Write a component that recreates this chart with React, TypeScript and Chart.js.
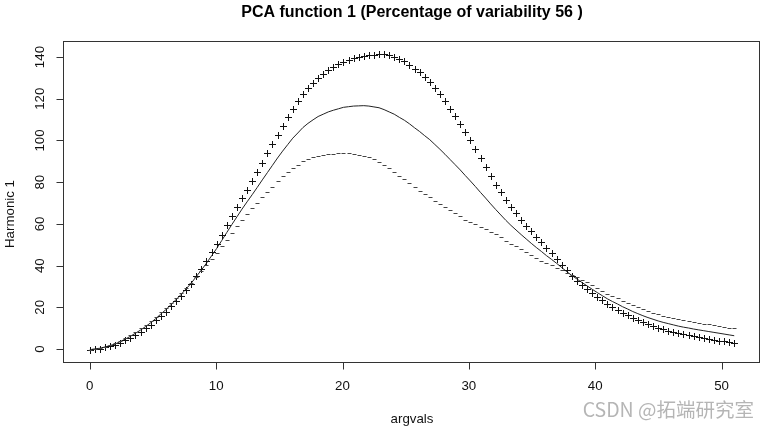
import React, { useEffect, useRef } from "react";
import { Chart, registerables } from "chart.js";

Chart.register(...registerables);

// evaluation grid of the functional PCA plot: 128 points over [0, 51]
const gridStart = 0;
const gridEnd = 51;
const gridCount = 128;
const argvals: number[] = Array.from(
  { length: gridCount },
  (_, i) => gridStart + (i * (gridEnd - gridStart)) / (gridCount - 1)
);

// mean function (solid line)
const meanCurve: number[] = [
  -0.3, 0.1, 0.4, 1.0, 1.7, 2.4, 3.6, 4.8, 6.1, 7.6,
  9.1, 10.8, 12.6, 14.6, 16.8, 18.9, 21.3, 23.7, 26.2, 28.9,
  31.6, 34.8, 37.9, 41.2, 44.7, 48.2, 52.0, 55.9, 59.7, 63.4,
  67.1, 70.6, 74.0, 77.5, 81.1, 84.6, 88.1, 91.6, 94.9, 98.0,
  101.1, 103.6, 106.2, 108.2, 109.9, 111.5, 112.6, 113.7, 114.5, 115.2,
  115.9, 116.2, 116.5, 116.6, 116.7, 116.5, 116.1, 115.7, 114.8, 113.7,
  112.6, 111.1, 109.7, 108.0, 106.1, 104.3, 102.3, 100.4, 98.1, 95.8,
  93.4, 90.9, 88.4, 85.9, 83.2, 80.6, 77.9, 75.1, 72.4, 69.6,
  66.9, 64.3, 61.7, 59.3, 57.1, 54.9, 52.8, 50.7, 48.7, 46.8,
  44.8, 43.0, 41.1, 39.1, 37.1, 35.3, 33.6, 31.9, 30.3, 28.7,
  27.1, 25.6, 24.1, 22.8, 21.6, 20.3, 19.2, 18.0, 17.0, 16.0,
  15.1, 14.3, 13.5, 12.8, 12.2, 11.6, 11.0, 10.5, 10.1, 9.6,
  9.2, 8.8, 8.4, 8.0, 7.6, 7.2, 6.8, 6.4,
];

// mean + harmonic ("+" symbols)
const plusCurve: number[] = [
  -0.3, 0.0, 0.2, 0.8, 1.4, 2.0, 3.1, 4.2, 5.5, 6.9,
  8.3, 10.0, 11.7, 13.7, 15.9, 18.0, 20.5, 23.0, 25.6, 28.5,
  31.4, 35.0, 38.5, 42.3, 46.4, 50.5, 54.8, 59.3, 63.7, 68.0,
  72.3, 76.5, 80.6, 85.0, 89.4, 93.8, 98.3, 102.8, 107.0, 111.1,
  115.3, 118.8, 122.4, 125.3, 127.8, 130.2, 132.0, 133.9, 135.4, 136.6,
  137.8, 138.6, 139.5, 140.1, 140.7, 141.0, 141.2, 141.5, 141.3, 140.8,
  140.2, 139.1, 138.0, 136.4, 134.5, 132.7, 130.3, 128.0, 125.3, 122.2,
  118.7, 115.2, 111.8, 108.1, 104.3, 100.2, 95.9, 91.5, 87.3, 83.0,
  78.8, 75.1, 71.4, 68.0, 65.0, 61.9, 59.2, 56.5, 53.8, 51.2,
  48.4, 45.9, 43.1, 40.4, 37.7, 35.1, 32.8, 30.5, 28.6, 26.8,
  24.9, 23.3, 21.6, 20.2, 18.9, 17.5, 16.3, 15.0, 14.0, 12.9,
  12.0, 11.1, 10.3, 9.6, 8.9, 8.3, 7.6, 7.1, 6.7, 6.2,
  5.8, 5.4, 4.9, 4.5, 4.1, 3.7, 3.3, 2.9,
];

// mean - harmonic ("-" symbols)
const minusCurve: number[] = [
  -0.3, 0.2, 0.6, 1.2, 2.0, 2.8, 4.1, 5.4, 6.7, 8.3,
  9.9, 11.6, 13.5, 15.5, 17.7, 19.8, 22.1, 24.4, 26.8, 29.3,
  31.8, 34.6, 37.3, 40.1, 43.0, 45.9, 49.2, 52.5, 55.7, 58.8,
  61.9, 64.7, 67.4, 70.0, 72.8, 75.4, 77.9, 80.4, 82.8, 84.9,
  86.9, 88.4, 90.0, 91.1, 92.0, 92.8, 93.2, 93.5, 93.6, 93.8,
  94.0, 93.8, 93.5, 93.1, 92.7, 92.0, 91.0, 89.9, 88.3, 86.6,
  85.0, 83.1, 81.4, 79.6, 77.7, 75.9, 74.3, 72.8, 70.9, 69.4,
  68.1, 66.6, 65.0, 63.7, 62.1, 61.0, 59.9, 58.7, 57.5, 56.2,
  55.0, 53.5, 52.0, 50.6, 49.2, 47.9, 46.4, 44.9, 43.6, 42.4,
  41.2, 40.1, 39.1, 37.8, 36.5, 35.5, 34.4, 33.3, 32.0, 30.6,
  29.3, 27.9, 26.6, 25.4, 24.3, 23.1, 22.1, 21.0, 20.0, 19.1,
  18.2, 17.5, 16.7, 16.0, 15.5, 14.9, 14.4, 13.9, 13.5, 13.0,
  12.6, 12.2, 11.9, 11.5, 11.1, 10.7, 10.3, 9.9,
];

const xTicks: number[] = [0, 10, 20, 30, 40, 50];
const yTicks: number[] = [0, 20, 40, 60, 80, 100, 120, 140];

const titleText = "PCA function 1 (Percentage of variability 56 )";
const xLabel = "argvals";
const yLabel = "Harmonic 1";
const watermark = "CSDN @拓端研究室";

const FONT = '"Liberation Sans", Arial, sans-serif';

// crisp R-like "+" and "-" symbols, placed at the points computed by Chart.js
const symbolPlugin = {
  id: "rSymbols",
  afterDatasetsDraw(chart: any) {
    const ctx = chart.ctx;
    ctx.save();
    ctx.lineWidth = 1;
    chart.data.datasets.forEach((ds: any, di: number) => {
      const sym = ds.rSymbol;
      if (!sym) return;
      const meta = chart.getDatasetMeta(di);
      ctx.strokeStyle = ds.rColor;
      ctx.beginPath();
      meta.data.forEach((el: any) => {
        const cx = Math.round(el.x) + 0.5;
        const cy = Math.round(el.y) + 0.5;
        if (sym === "+") {
          ctx.moveTo(cx - 3.5, cy);
          ctx.lineTo(cx + 3.5, cy);
          ctx.moveTo(cx, cy - 3.5);
          ctx.lineTo(cx, cy + 3.5);
        } else {
          ctx.moveTo(cx - 2, cy);
          ctx.lineTo(cx + 2, cy);
        }
      });
      ctx.stroke();
    });
    ctx.restore();
  },
};

const rAxesPlugin = {
  id: "rAxes",
  afterDraw(chart: any) {
    const { ctx, chartArea, scales } = chart;
    const xs = scales.x;
    const ys = scales.y;
    const { left, right, top, bottom } = chartArea;
    ctx.save();
    ctx.strokeStyle = "#333";
    ctx.lineWidth = 1;
    // box
    ctx.strokeRect(Math.round(left) - 0.5, Math.round(top) + 0.5, Math.round(right - left), Math.round(bottom - top));
    // x axis ticks
    ctx.beginPath();
    const bx = Math.round(bottom) + 0.5;
    ctx.moveTo(Math.round(xs.getPixelForValue(xTicks[0])) + 0.5, bx);
    ctx.lineTo(Math.round(xs.getPixelForValue(xTicks[xTicks.length - 1])) + 0.5, bx);
    xTicks.forEach((t) => {
      const px = Math.round(xs.getPixelForValue(t)) + 0.5;
      ctx.moveTo(px, bx);
      ctx.lineTo(px, bx + 7);
    });
    // y axis ticks
    const lx = Math.round(left) - 0.5;
    ctx.moveTo(lx, Math.round(ys.getPixelForValue(yTicks[0])) + 0.5);
    ctx.lineTo(lx, Math.round(ys.getPixelForValue(yTicks[yTicks.length - 1])) + 0.5);
    yTicks.forEach((t) => {
      const py = Math.round(ys.getPixelForValue(t)) + 0.5;
      ctx.moveTo(lx, py);
      ctx.lineTo(lx - 7, py);
    });
    ctx.stroke();

    ctx.fillStyle = "#111";
    ctx.font = `13.3px ${FONT}`;
    ctx.textAlign = "center";
    ctx.textBaseline = "middle";
    xTicks.forEach((t) => {
      ctx.fillText(String(t), xs.getPixelForValue(t), bottom + 24);
    });
    yTicks.forEach((t) => {
      ctx.save();
      ctx.translate(left - 24, ys.getPixelForValue(t));
      ctx.rotate(-Math.PI / 2);
      ctx.fillText(String(t), 0, 0);
      ctx.restore();
    });
    // axis titles
    ctx.fillText(xLabel, (left + right) / 2, bottom + 57);
    ctx.save();
    ctx.translate(10, 214);
    ctx.rotate(-Math.PI / 2);
    ctx.fillText(yLabel, 0, 0);
    ctx.restore();
    // main title
    ctx.fillStyle = "#000";
    ctx.font = `bold 16px ${FONT}`;
    ctx.fillText(titleText, (left + right) / 2, 13);
    // watermark
    ctx.fillStyle = "rgba(150,150,150,0.7)";
    ctx.font = `19.5px "Noto Sans CJK SC", ${FONT}`;
    ctx.textAlign = "right";
    ctx.fillText(watermark, 754, 410);
    ctx.restore();
  },
};

export default function App() {
  const canvasRef = useRef<HTMLCanvasElement | null>(null);

  useEffect(() => {
    const canvas = canvasRef.current;
    if (!canvas) return;
    const toPts = (ys: number[]) => argvals.map((x, i) => ({ x, y: ys[i] }));
    const chart = new Chart(canvas, {
      type: "scatter",
      data: {
        datasets: [
          {
            label: "mean",
            data: toPts(meanCurve),
            showLine: true,
            borderColor: "#222",
            borderWidth: 1,
            pointRadius: 0,
            tension: 0,
          },
          {
            label: "plus",
            data: toPts(plusCurve),
            showLine: false,
            pointStyle: "cross",
            pointRadius: 0,
            rSymbol: "+",
            rColor: "#111",
          } as any,
          {
            label: "minus",
            data: toPts(minusCurve),
            showLine: false,
            pointStyle: "line",
            pointRadius: 0,
            rSymbol: "-",
            rColor: "#444",
          } as any,
        ],
      },
      options: {
        animation: false,
        responsive: false,
        devicePixelRatio: 1,
        layout: { padding: { left: 64, right: 8, top: 41, bottom: 66 } },
        plugins: {
          legend: { display: false },
          tooltip: { enabled: false },
          title: { display: false },
        },
        scales: {
          x: { type: "linear", min: -2.04, max: 53.04, display: false },
          y: { type: "linear", min: -6.2, max: 147.7, display: false },
        },
      },
      plugins: [symbolPlugin, rAxesPlugin],
    });
    return () => chart.destroy();
  }, []);

  return (
    <div style={{ position: "absolute", left: 0, top: 0, width: 768, height: 428, background: "#fff" }}>
      <canvas ref={canvasRef} width={768} height={428} />
    </div>
  );
}
